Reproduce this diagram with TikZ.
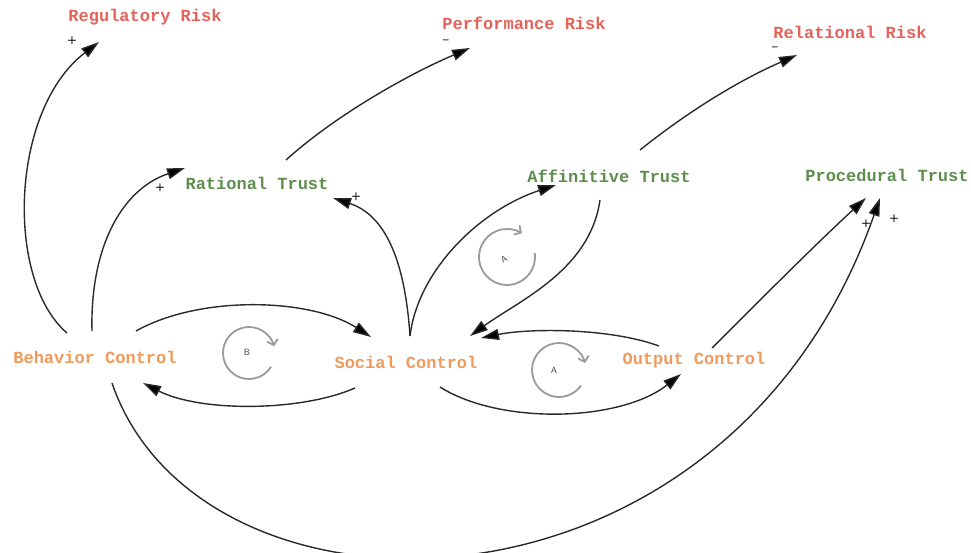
\documentclass[tikz,border=0pt]{standalone}
\usepackage{fontspec}
\setmonofont{Liberation Mono}
\usetikzlibrary{arrows.meta,calc}
\definecolor{riskc}{HTML}{E4625A}
\definecolor{trustc}{HTML}{5E8E4E}
\definecolor{ctrlc}{HTML}{EE9A5C}
\definecolor{linec}{HTML}{2A2A2A}
\definecolor{loopc}{HTML}{9A9A9A}
\begin{document}
\begin{tikzpicture}[x=1pt,y=-1pt,
  lbl/.style={font=\ttfamily\bfseries\fontsize{17}{20}\selectfont, inner sep=0pt},
  risk/.style={lbl, text=riskc},
  trust/.style={lbl, text=trustc},
  ctrl/.style={lbl, text=ctrlc},
  conn/.style={draw=linec, line width=1.4pt, -{Triangle[length=18pt,width=11pt,fill=black]}},
  sign/.style={font=\sffamily\bfseries\fontsize{11}{12}\selectfont, inner sep=0pt, text=black},
  loopline/.style={draw=loopc, line width=1.8pt, -{Straight Barb[length=5pt,width=11pt]}},
  looplbl/.style={font=\sffamily\fontsize{9}{10}\selectfont, inner sep=0pt, text=black!75}
]
\useasboundingbox (0,0) rectangle (971,553);

% nodes
\node[risk] (rr) at (145,17) {Regulatory Risk};
\node[risk] (pr) at (524,23) {Performance Risk};
\node[risk] (rel) at (850,32) {Relational Risk};
\node[trust] (rt) at (257,183) {Rational Trust};
\node[trust] (at) at (609,176) {Affinitive Trust};
\node[trust] (pt) at (887,175) {Procedural Trust};
\node[ctrl] (bc) at (95,357) {Behavior Control};
\node[ctrl] (sc) at (406,362) {Social Control};
\node[ctrl] (oc) at (694,360) {Output Control};

% connectors
\draw[conn] ($(bc)+(-28,-24)$) .. controls (5,280) and (10,110) .. ($(rr)+(-46,25)$);
\draw[conn] ($(bc)+(-3,-26)$) .. controls (90,250) and (120,190) .. ($(rt)+(-72,-15)$);
\draw[conn] ($(rt)+(29,-23)$) .. controls (330,120) and (400,78) .. ($(pr)+(-54,25)$);
\draw[conn] ($(sc)+(4,-26)$) .. controls (405,260) and (385,215) .. ($(rt)+(76,15)$);
\draw[conn] ($(sc)+(4,-26)$) .. controls (418,270) and (480,210) .. ($(at)+(-53,9)$);
\draw[conn] ($(at)+(-9,24)$) .. controls (590,270) and (520,300) .. ($(sc)+(64,-26)$);
\draw[conn] ($(at)+(31,-26)$) .. controls (690,110) and (740,80) .. ($(rel)+(-53,23)$);
\draw[conn] ($(bc)+(41,-26)$) .. controls (200,295) and (310,298) .. ($(sc)+(-35,-25)$);
\draw[conn] ($(sc)+(-51,26)$) .. controls (300,412) and (200,412) .. ($(bc)+(48,26)$);
\draw[conn] ($(sc)+(34,25)$) .. controls (500,425) and (620,422) .. ($(oc)+(-13,14)$);
\draw[conn] ($(oc)+(-35,-14)$) .. controls (610,328) and (530,328) .. ($(sc)+(75,-24)$);
\draw[conn] ($(oc)+(18,-12)$) .. controls (760,300) and (820,240) .. ($(pt)+(-21,23)$);
\draw[conn] ($(bc)+(17,26)$) .. controls (200,640) and (725,640) .. ($(pt)+(-7,23)$);

% signs
\node[sign] (s1) at (72,41) {+};
\node[sign] (s2) at (160,188) {+};
\node[sign] (s3) at (446,42) {–};
\node[sign] (s4) at (356,197) {+};
\node[sign] (s5) at (775,49) {–};
\node[sign] (s6) at (866,224) {+};
\node[sign] (s7) at (894,219) {+};

% loop markers (angles flipped because y points down)
\draw[loopline] (249,353) ++(32:26) arc[start angle=32, end angle=345, radius=26];
\node[looplbl] (lb) at (247,352) {B};
\draw[loopline] (507,257) ++(-8:28) arc[start angle=-8, end angle=302, radius=28];
\node[looplbl, rotate=30] (la1) at (504,259) {A};
\draw[loopline] (559,370) ++(35:27) arc[start angle=35, end angle=345, radius=27];
\node[looplbl] (la2) at (554,370) {A};
\end{tikzpicture}
\end{document}
